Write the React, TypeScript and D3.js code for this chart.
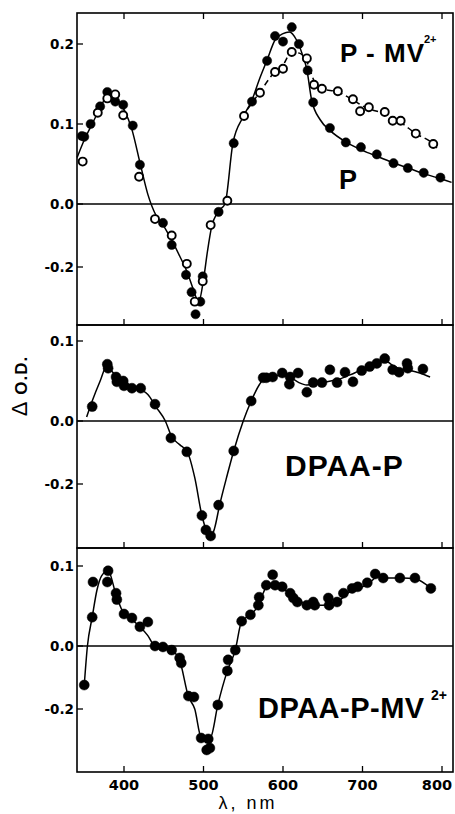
import React from "react";
import * as d3 from "d3";

// wavelength ticks (nm)
const xTicks = [400, 500, 600, 700, 800];

// ---- panel 1 : P (filled) and P-MV2+ (open) ----
const pNm = [347, 350, 358, 370, 379, 389, 399, 411, 420, 449, 460, 478, 485, 490, 496, 499, 519, 538, 561, 580, 590, 600, 611, 620, 631, 638, 659, 679, 698, 718, 739, 757, 777, 798];
const pOD = [0.085, 0.084, 0.1, 0.122, 0.14, 0.128, 0.124, 0.098, 0.049, -0.06, -0.13, -0.225, -0.28, -0.35, -0.31, -0.23, -0.025, 0.076, 0.128, 0.179, 0.21, 0.203, 0.221, 0.2, 0.167, 0.127, 0.095, 0.077, 0.071, 0.062, 0.051, 0.045, 0.039, 0.033];

const pmvNm = [348, 367, 379, 389, 399, 419, 439, 460, 479, 489, 499, 509, 530, 551, 571, 590, 600, 611, 630, 639, 649, 669, 688, 697, 708, 728, 738, 748, 767, 789];
const pmvOD = [0.053, 0.114, 0.132, 0.137, 0.111, 0.034, -0.048, -0.1, -0.19, -0.31, -0.245, -0.067, 0.004, 0.11, 0.139, 0.165, 0.169, 0.19, 0.182, 0.149, 0.144, 0.141, 0.131, 0.116, 0.121, 0.115, 0.104, 0.104, 0.088, 0.075];

// fitted curves
const pFitNm = [341, 350, 360, 370, 380, 390, 400, 410, 420, 430, 440, 450, 460, 470, 480, 487, 494, 500, 505, 510, 518, 527, 537, 550, 561, 570, 580, 590, 600, 608, 617, 625, 630, 636, 647, 659, 680, 700, 720, 740, 760, 780, 800, 812];
const pFitOD = [0.058, 0.08, 0.1, 0.12, 0.136, 0.132, 0.118, 0.093, 0.052, 0.012, -0.035, -0.07, -0.115, -0.165, -0.22, -0.27, -0.31, -0.24, -0.15, -0.075, -0.025, 0, 0.076, 0.109, 0.13, 0.155, 0.18, 0.205, 0.213, 0.215, 0.205, 0.185, 0.168, 0.13, 0.105, 0.092, 0.077, 0.067, 0.059, 0.051, 0.044, 0.037, 0.031, 0.027];

const pmvFitNm = [555, 571, 588, 599, 611, 622, 630, 640, 649, 669, 688, 705, 728, 748, 767, 789, 796];
const pmvFitOD = [0.118, 0.14, 0.163, 0.172, 0.19, 0.188, 0.178, 0.152, 0.144, 0.14, 0.13, 0.12, 0.113, 0.102, 0.088, 0.075, 0.067];

// ---- panel 2 : DPAA-P ----
const dpNm = [360, 379, 380, 390, 391, 399, 400, 410, 421, 439, 459, 479, 498, 503, 509, 519, 538, 560, 575, 579, 587, 599, 609, 608, 619, 630, 638, 649, 659, 668, 678, 688, 699, 709, 718, 728, 738, 746, 756, 757, 776];
const dpOD = [0.018, 0.071, 0.066, 0.055, 0.049, 0.05, 0.044, 0.041, 0.041, 0.021, -0.054, -0.098, -0.3, -0.346, -0.365, -0.267, -0.095, 0.025, 0.054, 0.054, 0.055, 0.06, 0.055, 0.046, 0.06, 0.036, 0.048, 0.048, 0.064, 0.048, 0.061, 0.049, 0.063, 0.068, 0.072, 0.078, 0.064, 0.061, 0.072, 0.066, 0.065];

const dpFitNm = [353, 360, 370, 379, 385, 395, 410, 420, 430, 440, 452, 460, 470, 480, 489, 498, 504, 509, 514, 520, 530, 538, 550, 560, 570, 578, 590, 600, 610, 620, 630, 640, 650, 660, 670, 680, 690, 700, 710, 720, 728, 737, 747, 760, 772, 785];
const dpFitOD = [0.005, 0.025, 0.05, 0.07, 0.062, 0.052, 0.044, 0.04, 0.033, 0.018, 0, -0.05, -0.075, -0.1, -0.18, -0.3, -0.35, -0.37, -0.34, -0.27, -0.17, -0.095, 0, 0.025, 0.045, 0.055, 0.057, 0.057, 0.054, 0.048, 0.045, 0.046, 0.048, 0.05, 0.052, 0.056, 0.06, 0.065, 0.07, 0.074, 0.076, 0.07, 0.065, 0.063, 0.06, 0.055];

// ---- panel 3 : DPAA-P-MV2+ ----
const dpmNm = [350, 360, 361, 379, 380, 390, 391, 400, 410, 420, 430, 439, 449, 460, 470, 472, 481, 488, 497, 506, 504, 508, 518, 530, 531, 540, 548, 559, 569, 570, 579, 587, 590, 599, 609, 613, 618, 630, 638, 640, 657, 658, 668, 676, 687, 694, 706, 716, 726, 747, 766, 786];
const dpmOD = [-0.124, 0.036, 0.08, 0.08, 0.094, 0.066, 0.058, 0.04, 0.035, 0.024, 0.03, 0.0, -0.003, -0.013, -0.038, -0.054, -0.159, -0.162, -0.292, -0.295, -0.33, -0.324, -0.187, -0.079, -0.044, -0.013, 0.031, 0.039, 0.051, 0.061, 0.076, 0.089, 0.076, 0.074, 0.066, 0.06, 0.055, 0.051, 0.055, 0.051, 0.06, 0.051, 0.055, 0.066, 0.072, 0.074, 0.079, 0.09, 0.085, 0.085, 0.085, 0.072];

const dpmFitNm = [350, 354, 360, 366, 372, 380, 390, 400, 410, 420, 430, 439, 449, 460, 470, 481, 489, 497, 503, 509, 518, 530, 540, 548, 559, 569, 575, 580, 590, 600, 610, 620, 630, 640, 650, 660, 670, 680, 690, 700, 710, 720, 730, 750, 766, 786];
const dpmFitOD = [-0.124, 0, 0.036, 0.07, 0.088, 0.094, 0.064, 0.04, 0.033, 0.024, 0.013, 0, -0.003, -0.013, -0.045, -0.16, -0.2, -0.29, -0.295, -0.29, -0.187, -0.079, -0.013, 0.031, 0.039, 0.051, 0.066, 0.075, 0.077, 0.072, 0.064, 0.057, 0.052, 0.051, 0.051, 0.052, 0.056, 0.065, 0.071, 0.074, 0.08, 0.088, 0.085, 0.085, 0.084, 0.072];

const topTicks = [0.2, 0.1, 0.0, -0.2];
const lowTicks = [0.1, 0.0, -0.2];

const LEFT = 77;
const RIGHT = 453;
const tickFont = "'DejaVu Sans', sans-serif";
const labelFont = "'Liberation Sans', Arial, sans-serif";

export default function App() {
  const x = d3.scaleLinear().domain([400, 800]).range([124, 442]);
  // negative side of the figure is compressed: polylinear scale
  const yFor = (zero: number) =>
    d3.scaleLinear().domain([-0.2, 0, 0.1]).range([zero + 63, zero, zero - 80]);

  const panels = [
    { top: 13, bottom: 325, zero: 204, ticks: topTicks, topTicks: true },
    { top: 325, bottom: 548, zero: 421, ticks: lowTicks, topTicks: false },
    { top: 548, bottom: 772, zero: 646, ticks: lowTicks, topTicks: false },
  ];
  const ys = panels.map((p) => yFor(p.zero));

  const path = (y: d3.ScaleLinear<number, number>, nm: number[], od: number[]) =>
    d3
      .line<[number, number]>()
      .x((d) => x(d[0]))
      .y((d) => y(d[1]))
      .curve(d3.curveMonotoneX)(d3.zip(nm, od) as [number, number][]) || "";

  const dots = (y: d3.ScaleLinear<number, number>, nm: number[], od: number[], r: number, open = false) =>
    nm.map((n, i) => (
      <circle
        key={i}
        cx={x(n)}
        cy={y(od[i])}
        r={r}
        fill={open ? "#fff" : "#000"}
        stroke="#000"
        strokeWidth={open ? 1.9 : 0.5}
      />
    ));

  return (
    <svg width={455} height={814} style={{ position: "absolute", left: 0, top: 0, background: "#fff" }}>
      {panels.map((p, pi) => (
        <g key={pi}>
          <rect x={LEFT} y={p.top} width={RIGHT - LEFT} height={p.bottom - p.top} fill="none" stroke="#000" strokeWidth={1.6} />
          <line x1={LEFT} x2={RIGHT} y1={p.zero} y2={p.zero} stroke="#000" strokeWidth={1.5} />
          {xTicks.map((t) => (
            <g key={t}>
              <line x1={x(t)} x2={x(t)} y1={p.bottom} y2={p.bottom - 6} stroke="#000" strokeWidth={1.3} />
              {p.topTicks && <line x1={x(t)} x2={x(t)} y1={p.top} y2={p.top + 6} stroke="#000" strokeWidth={1.3} />}
            </g>
          ))}
          {p.ticks.map((t) => (
            <g key={t}>
              <line x1={LEFT} x2={LEFT + 6} y1={ys[pi](t)} y2={ys[pi](t)} stroke="#000" strokeWidth={1.3} />
              <text
                x={LEFT - 3}
                y={ys[pi](t)}
                dy="0.36em"
                textAnchor="end"
                fontFamily={tickFont}
                fontWeight="bold"
                fontSize={13.5}
              >
                {t.toFixed(1)}
              </text>
            </g>
          ))}
        </g>
      ))}

      {/* panel 1 */}
      <path d={path(ys[0], pFitNm, pFitOD)} fill="none" stroke="#000" strokeWidth={1.5} />
      <path d={path(ys[0], pmvFitNm, pmvFitOD)} fill="none" stroke="#000" strokeWidth={1.5} strokeDasharray="6,4" />
      {dots(ys[0], pNm, pOD, 4.6)}
      {dots(ys[0], pmvNm, pmvOD, 4, true)}
      <text x={340} y={62} fontFamily={labelFont} fontWeight="bold" fontSize={26} letterSpacing={1} xmlSpace="preserve">
        {"P - MV"}
      </text>
      <text x={424} y={43} fontFamily={labelFont} fontWeight="bold" fontSize={11}>
        2+
      </text>
      <text x={339} y={189} fontFamily={labelFont} fontWeight="bold" fontSize={27}>
        P
      </text>

      {/* panel 2 */}
      <path d={path(ys[1], dpFitNm, dpFitOD)} fill="none" stroke="#000" strokeWidth={1.5} />
      {dots(ys[1], dpNm, dpOD, 5)}
      <text x={285} y={476} fontFamily={labelFont} fontWeight="bold" fontSize={30} letterSpacing={1}>
        DPAA-P
      </text>

      {/* panel 3 */}
      <path d={path(ys[2], dpmFitNm, dpmFitOD)} fill="none" stroke="#000" strokeWidth={1.5} />
      {dots(ys[2], dpmNm, dpmOD, 5)}
      <text x={258} y={718} fontFamily={labelFont} fontWeight="bold" fontSize={29} letterSpacing={0.5}>
        DPAA-P-MV
      </text>
      <text x={431} y={700} fontFamily={labelFont} fontWeight="bold" fontSize={14}>
        2+
      </text>

      {/* x tick labels */}
      {xTicks.map((t) => (
        <text
          key={t}
          x={Math.min(x(t), 437)}
          y={790}
          textAnchor="middle"
          fontFamily={tickFont}
          fontWeight="bold"
          fontSize={14.5}
        >
          {t}
        </text>
      ))}
      <text x={248} y={809} textAnchor="middle" fontFamily={labelFont} fontSize={18} letterSpacing={3}>
        λ, nm
      </text>

      {/* y title */}
      <text
        transform="translate(27,386) rotate(-90)"
        textAnchor="middle"
        fontFamily={labelFont}
        fontWeight="bold"
        fontSize={17}
        letterSpacing={1}
      >
        <tspan fontWeight="normal" fontSize={22}>Δ</tspan> O.D.
      </text>
    </svg>
  );
}
